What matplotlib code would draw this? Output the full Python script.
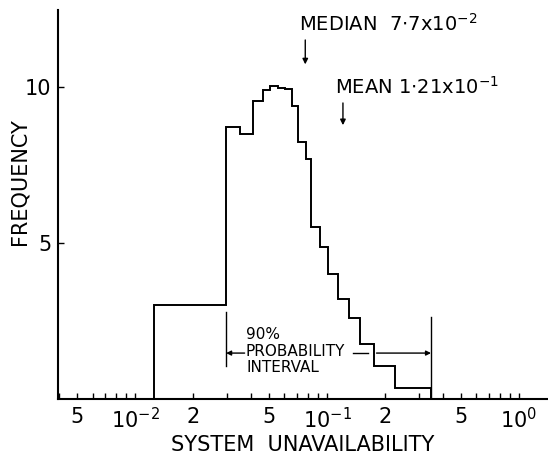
import matplotlib
matplotlib.use("Agg")
import matplotlib.pyplot as plt
from matplotlib.ticker import FixedLocator, FixedFormatter, LogLocator, NullFormatter

# histogram: bin edges (system unavailability) and frequencies
bin_edges = [0.01256, 0.0298, 0.0352, 0.0412, 0.0464, 0.0505, 0.0556, 0.0604,
             0.0657, 0.0706, 0.0778, 0.0826, 0.0920, 0.1012, 0.114, 0.130,
             0.1486, 0.176, 0.226, 0.348]
freq = [3.0, 8.72, 8.49, 9.55, 9.9, 10.02, 9.98, 9.94, 9.4, 8.25, 7.69,
        5.5, 4.87, 4.0, 3.19, 2.6, 1.76, 1.06, 0.34]

median = 0.077
mean = 0.121
interval = (0.0298, 0.348)

xtick_pos = [5e-3, 1e-2, 2e-2, 5e-2, 1e-1, 2e-1, 5e-1, 1e0]
xtick_lab = ["5", r"10$^{-2}$", "2", "5", r"10$^{-1}$", "2", "5", r"10$^{0}$"]
ytick_pos = [5, 10]

fig = plt.figure(figsize=(5.48, 4.58), dpi=100)
ax = fig.add_axes([0.106, 0.129, 0.894, 0.849])

ax.stairs(freq, bin_edges, color="black", lw=1.4)

ax.set_xscale("log")
ax.set_xlim(0.00397, 1.416)
ax.set_ylim(0, 12.47)

ax.xaxis.set_major_locator(FixedLocator(xtick_pos))
ax.xaxis.set_major_formatter(FixedFormatter(xtick_lab))
ax.xaxis.set_minor_locator(LogLocator(base=10, subs=range(2, 10)))
ax.xaxis.set_minor_formatter(NullFormatter())
ax.yaxis.set_major_locator(FixedLocator(ytick_pos))
ax.yaxis.set_minor_locator(FixedLocator([]))

ax.tick_params(axis="x", which="both", direction="in", length=4, width=1,
               labelsize=15, pad=6)
ax.tick_params(axis="y", direction="in", length=4, width=1, labelsize=15, pad=5)

for s in ("top", "right"):
    ax.spines[s].set_visible(False)
for s in ("left", "bottom"):
    ax.spines[s].set_linewidth(1.5)

ax.set_xlabel("SYSTEM  UNAVAILABILITY", fontsize=15, labelpad=2)
ax.set_ylabel("FREQUENCY", fontsize=15)
ax.yaxis.set_label_coords(-0.058, 0.56)

# median and mean markers
ax.annotate("", xy=(median, 10.64), xytext=(median, 11.6),
            arrowprops=dict(arrowstyle="-|>", color="black", lw=1, mutation_scale=8))
ax.text(0.0715, 11.8, r"MEDIAN  7$\cdot$7x10$^{-2}$", fontsize=14, va="baseline")
ax.annotate("", xy=(mean, 8.69), xytext=(mean, 9.58),
            arrowprops=dict(arrowstyle="-|>", color="black", lw=1, mutation_scale=8))
ax.text(0.110, 9.8, r"MEAN 1$\cdot$21x10$^{-1}$", fontsize=14, va="baseline")

# 90% probability interval
ax.plot([interval[0], interval[0]], [1.06, 2.79], color="black", lw=1)
ax.plot([interval[1], interval[1]], [0, 2.63], color="black", lw=1)
ax.annotate("", xy=(interval[0], 1.47), xytext=(0.0372, 1.47),
            arrowprops=dict(arrowstyle="-|>", color="black", lw=1, mutation_scale=7,
                            shrinkA=0, shrinkB=0))
ax.plot([0.136, 0.164], [1.47, 1.47], color="black", lw=1)
ax.annotate("", xy=(interval[1], 1.47), xytext=(0.181, 1.47),
            arrowprops=dict(arrowstyle="-|>", color="black", lw=1, mutation_scale=7,
                            shrinkA=0, shrinkB=0))
ax.text(0.0376, 2.08, "90%", fontsize=11, va="center")
ax.text(0.0376, 1.52, "PROBABILITY", fontsize=11, va="center")
ax.text(0.0380, 1.01, "INTERVAL", fontsize=11, va="center")

fig.savefig("out.png", dpi=100)
